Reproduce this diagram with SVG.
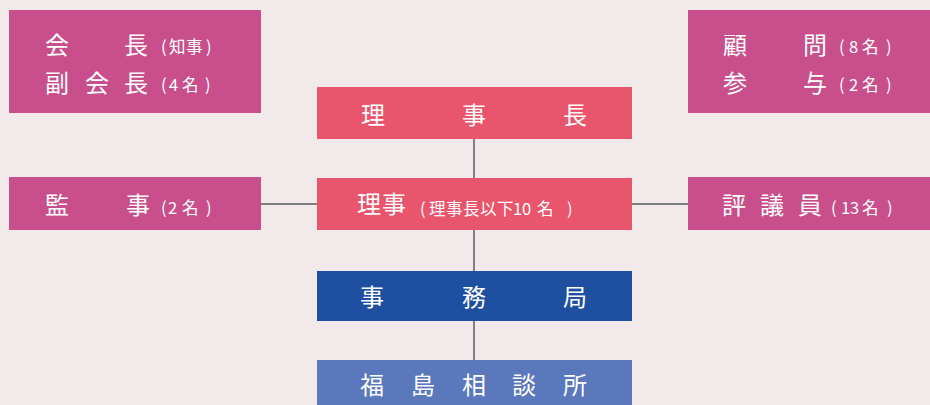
<svg xmlns="http://www.w3.org/2000/svg" width="930" height="405" viewBox="0 0 930 405">
<style>
text{font-family:"Noto Sans CJK JP","Noto Sans",sans-serif;fill:#ffffff}
.b{font-size:24px}
.s{font-size:16.5px}
.pk{fill:#c84f8b}
.rd{fill:#e8556c}
.bl{fill:#1f4fa0}
.lb{fill:#5b78bc}
.ln{stroke:#7f7f7f;stroke-width:2;fill:none}
</style>
<rect x="0" y="0" width="930" height="405" fill="#f2e9ea"/>
<g id="connectors">
<line class="ln" x1="474" y1="139" x2="474" y2="360"/>
<line class="ln" x1="261" y1="204" x2="317" y2="204"/>
<line class="ln" x1="632" y1="204" x2="688" y2="204"/>
</g>
<g id="kaicho">
<rect class="pk" x="9" y="10" width="252" height="103"/>
<text class="b" x="45" y="54">会</text><text class="b" x="124" y="54">長</text>
<text class="s" x="161 169 186 206" y="53">(知事)</text>
<text class="b" x="45" y="92">副</text><text class="b" x="85" y="92">会</text><text class="b" x="124" y="92">長</text>
<text class="s" x="161 169 182 205" y="91">(4名)</text>
</g>
<g id="komon">
<rect class="pk" x="688" y="10" width="242" height="103"/>
<text class="b" x="723" y="54">顧</text><text class="b" x="803" y="54">問</text>
<text class="s" x="839 849 862 886" y="53">(8名)</text>
<text class="b" x="723" y="92">参</text><text class="b" x="803" y="92">与</text>
<text class="s" x="839 849 862 886" y="91">(2名)</text>
</g>
<g id="rijicho">
<rect class="rd" x="317" y="87" width="315" height="52"/>
<text class="b" x="361" y="124">理</text><text class="b" x="462" y="124">事</text><text class="b" x="563" y="124">長</text>
</g>
<g id="riji">
<rect class="rd" x="317" y="178" width="315" height="52"/>
<text class="b" x="357 382" y="213">理事</text>
<text class="s" x="420 429 446 463 480 497 513 522 537 567" y="215">(理事長以下10名)</text>
</g>
<g id="kanji">
<rect class="pk" x="9" y="177" width="252" height="53"/>
<text class="b" x="45" y="214">監</text><text class="b" x="126" y="214">事</text>
<text class="s" x="161 168 182 206" y="214">(2名)</text>
</g>
<g id="hyogiin">
<rect class="pk" x="688" y="177" width="242" height="53"/>
<text class="b" x="722" y="214">評</text><text class="b" x="760" y="214">議</text><text class="b" x="798" y="214">員</text>
<text class="s" x="831 841 850 862 887" y="214">(13名)</text>
</g>
<g id="jimukyoku">
<rect class="bl" x="317" y="271" width="315" height="50"/>
<text class="b" x="360" y="306">事</text><text class="b" x="462" y="306">務</text><text class="b" x="563" y="306">局</text>
</g>
<g id="sodansho">
<rect class="lb" x="317" y="360" width="315" height="45"/>
<text class="b" x="360" y="394">福</text><text class="b" x="411" y="394">島</text><text class="b" x="462" y="394">相</text><text class="b" x="512" y="394">談</text><text class="b" x="563" y="394">所</text>
</g>
</svg>
